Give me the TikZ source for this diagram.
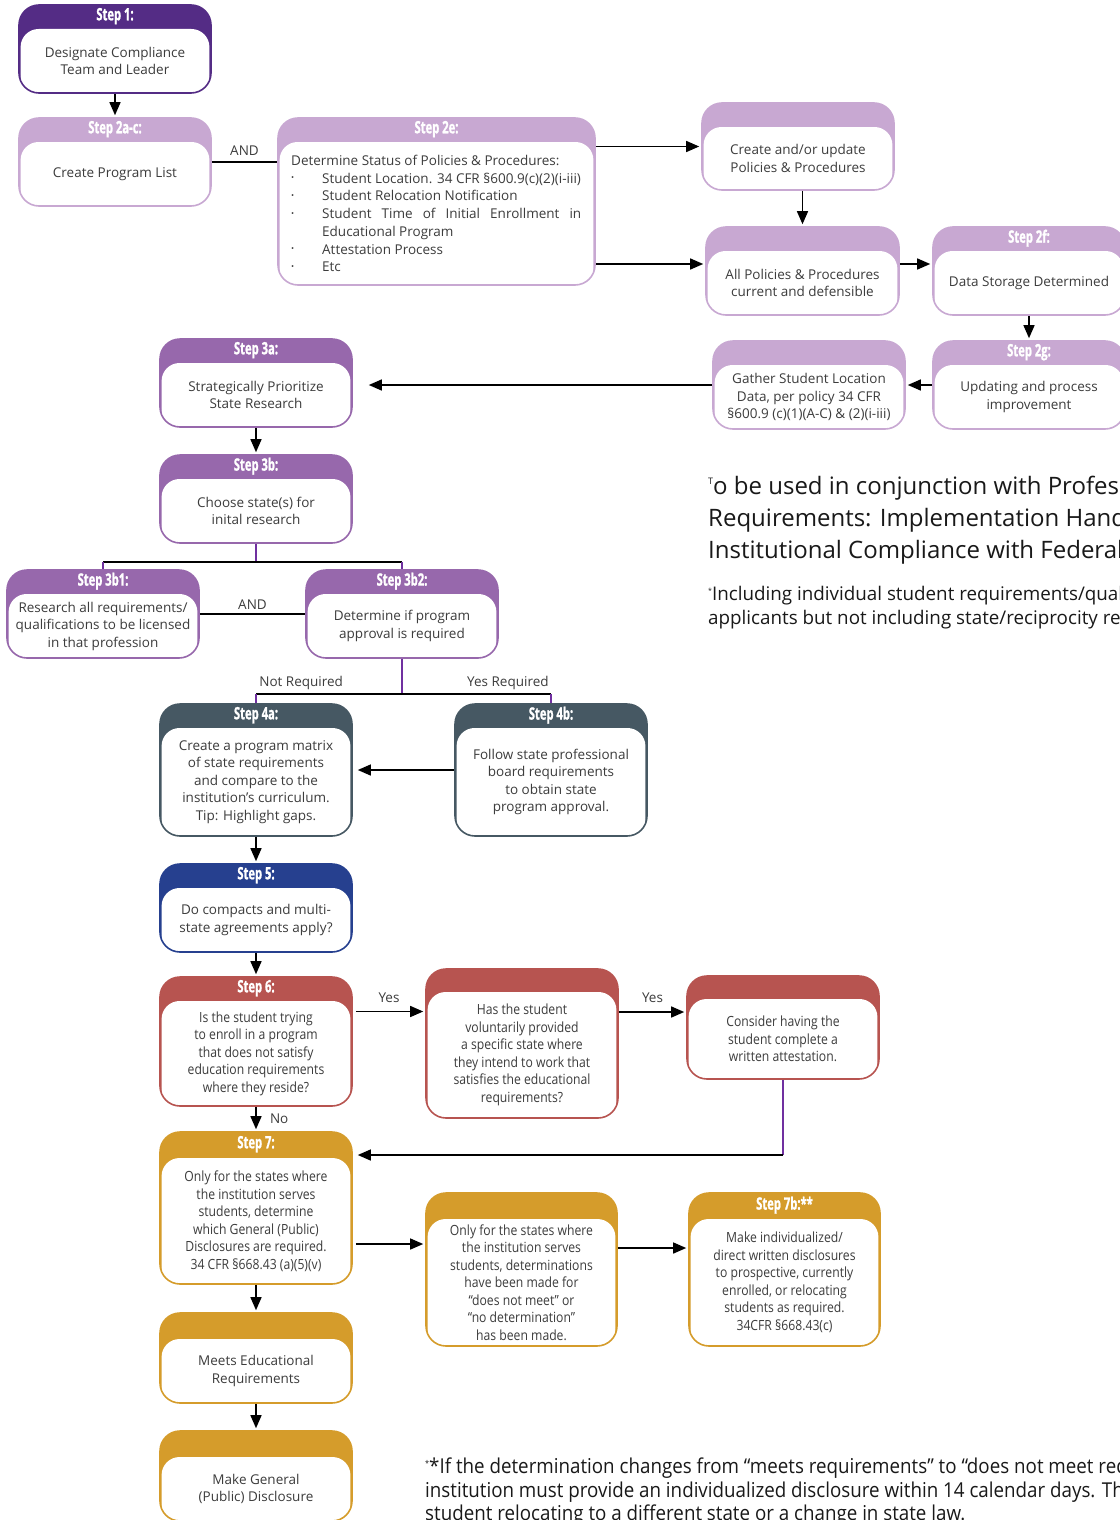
\documentclass[tikz,border=0pt]{standalone}
\usepackage{fontspec}
\setmainfont{Open Sans}
\newfontfamily\condfam[FakeStretch=0.87]{Open Sans}
\newfontfamily\notefam[FakeStretch=0.915]{Open Sans}
\newfontfamily\headfam[FakeStretch=0.66,FakeBold=1.2]{Open Sans}
\usepackage{xcolor}
\usetikzlibrary{arrows.meta,calc,positioning}

\definecolor{stepone}{RGB}{84,44,133}
\definecolor{steptwo}{RGB}{200,168,210}
\definecolor{stepthree}{RGB}{151,104,172}
\definecolor{stepfour}{RGB}{70,88,99}
\definecolor{stepfive}{RGB}{38,64,143}
\definecolor{stepsix}{RGB}{183,84,80}
\definecolor{stepseven}{RGB}{213,156,43}
\definecolor{joint}{RGB}{112,48,160}
\definecolor{ink}{RGB}{60,60,60}

\newcommand\bodyfont{\fontsize{13.5}{17.5}\selectfont}
\newcommand\condbody{\condfam\fontsize{14}{17.5}\selectfont}
\newcommand\dotitem{\makebox[31pt][l]{\raisebox{2.5pt}{\scalebox{0.6}{\textbullet}}}}

\tikzset{
	card/.style 2 args={draw=#1, fill=white, line width=1.6pt, rounded corners=20pt, inner sep=0pt,
		path picture={
			\fill[#1] (path picture bounding box.south west) rectangle (path picture bounding box.north east);
			\fill[white, rounded corners=18pt] ([shift={(1.6pt,-#2pt)}]path picture bounding box.north west)
				rectangle ([shift={(-1.6pt,-25pt)}]path picture bounding box.south east);
		}},
	headtext/.style={text=white, inner sep=0pt, font=\headfam\bfseries\fontsize{17}{18}\selectfont},
	bodytext/.style={text=ink, inner sep=0pt, align=center, font=\bodyfont},
	note/.style={text=black!90, inner sep=0pt, align=left, anchor=north west},
	link/.style={line width=1.4pt, black},
	plink/.style={line width=1.2pt, joint},
	arr/.style={link, -{Triangle[length=13pt,width=11pt]}, shorten >=2pt},
	tag/.style={text=ink, font=\bodyfont},
}

% name, colour, x1, y1, x2, y2, header height, header, body
\newcommand\card[9]{%
	\node[card={#2}{#7}, minimum width={#5-#3}, minimum height={#6-#4}] (#1) at ({(#3+#5)/2},{(#4+#6)/2}) {};
	\node[headtext] (#1-h) at ([yshift={-#7/2}]#1.north) {#8};
	\node[bodytext] (#1-b) at ($(#1.south)!0.5!([yshift=-#7pt]#1.north)$) {#9};
}

\begin{document}
\begin{tikzpicture}[x=1pt,y=-1pt]
	\useasboundingbox[fill=white] (0,0) rectangle (1119,1520);

	% step 1 and 2
	\card{s1}{stepone}{19}{5}{211}{93}{24}{Step 1:}{Designate Compliance\\Team and Leader}
	\card{s2ac}{steptwo}{19}{118}{211}{206}{24}{Step 2a-c:}{Create Program List}
	\card{s2e}{steptwo}{278}{118}{595}{285}{24}{Step 2e:}{}
	\node[bodytext, align=left, anchor=north west, font=\fontsize{13.5}{17.7}\selectfont] (s2e-l) at (291,155) {Determine Status of Policies \& Procedures:\\
		\dotitem Student Location. 34 CFR §600.9(c)(2)(i-iii)\\
		\dotitem Student Relocation Notification\\
		\dotitem\makebox[259pt][s]{Student Time of Initial Enrollment in}\\
		\hspace*{31pt}Educational Program\\
		\dotitem Attestation Process\\
		\dotitem Etc};
	\card{cre}{steptwo}{702}{103}{894}{190}{24}{}{Create and/or update\\Policies \& Procedures}
	\card{pol}{steptwo}{706}{227}{899}{315}{24}{}{All Policies \& Procedures\\current and defensible}
	\card{s2f}{steptwo}{933}{227}{1125}{315}{24}{Step 2f:}{Data Storage Determined}
	\card{s2g}{steptwo}{933}{341}{1125}{429}{24}{Step 2g:}{Updating and process\\improvement}
	\card{gat}{steptwo}{713}{341}{905}{429}{24}{}{Gather Student Location\\Data, per policy 34 CFR\\§600.9 (c)(1)(A-C) \& (2)(i-iii)}

	% step 3
	\card{s3a}{stepthree}{160}{339}{352}{427}{24}{Step 3a:}{Strategically Prioritize\\State Research}
	\card{s3b}{stepthree}{160}{455}{352}{543}{24}{Step 3b:}{Choose state(s) for\\inital research}
	\card{s3b1}{stepthree}{7}{570}{199}{658}{24}{Step 3b1:}{Research all requirements/\\qualifications to be licensed\\in that profession}
	\card{s3b2}{stepthree}{306}{570}{498}{658}{24}{Step 3b2:}{Determine if program\\approval is required}

	% step 4 and 5
	\card{s4a}{stepfour}{160}{704}{352}{836}{24}{Step 4a:}{Create a program matrix\\of state requirements\\and compare to the\\institution’s curriculum.\\Tip: Highlight gaps.}
	\card{s4b}{stepfour}{455}{704}{647}{836}{24}{Step 4b:}{Follow state professional\\board requirements\\to obtain state\\program approval.}
	\card{s5}{stepfive}{160}{864}{352}{952}{24}{Step 5:}{Do compacts and multi-\\state agreements apply?}

	% step 6 and 7
	\tikzset{bodytext/.append style={font=\condbody}}
	\card{s6}{stepsix}{160}{977}{352}{1106}{24}{Step 6:}{Is the student trying\\to enroll in a program\\that does not satisfy\\education requirements\\where they reside?}
	\card{has}{stepsix}{426}{969}{618}{1118}{23}{}{Has the student\\voluntarily provided\\a specific state where\\they intend to work that\\satisfies the educational\\requirements?}
	\card{att}{stepsix}{687}{976}{879}{1079}{23}{}{Consider having the\\student complete a\\written attestation.}
	\card{s7}{stepseven}{160}{1132}{352}{1284}{26}{Step 7:}{Only for the states where\\the institution serves\\students, determine\\which General (Public)\\Disclosures are required.\\34 CFR §668.43 (a)(5)(v)}
	\card{det}{stepseven}{426}{1193}{617}{1346}{26}{}{Only for the states where\\the institution serves\\students, determinations\\have been made for\\“does not meet” or\\“no determination”\\has been made.}
	\card{s7b}{stepseven}{689}{1193}{880}{1346}{26}{Step 7b:**}{Make individualized/\\direct written disclosures\\to prospective, currently\\enrolled, or relocating\\students as required.\\34CFR §668.43(c)}
	\tikzset{bodytext/.append style={font=\bodyfont}}
	\card{meet}{stepseven}{160}{1313}{352}{1403}{26}{}{Meets Educational\\Requirements}
	\card{gen}{stepseven}{160}{1431}{352}{1521}{26}{}{Make General\\(Public) Disclosure}

	% notes
	\node[note, font=\fontsize{24}{32}\selectfont] (intro) at (708,476) {{\fontsize{9}{9}\selectfont\raisebox{10pt}{T}}o be used in conjunction with Professional\\Requirements: Implementation Handbook\\Institutional Compliance with Federal};
	\node[note, font=\fontsize{18.8}{24}\selectfont] (incl) at (708,586) {\raisebox{7pt}{\fontsize{7}{7}\selectfont*}Including individual student requirements/qualifications\\applicants but not including state/reciprocity requirements};
	\node[note, font=\notefam\fontsize{20.5}{23.5}\selectfont] (change) at (425,1458) {\raisebox{7pt}{\fontsize{8}{8}\selectfont*}*If the determination changes from “meets requirements” to “does not meet requirements”\\institution must provide an individualized disclosure within 14 calendar days. This\\student relocating to a different state or a change in state law.};

	% connectors
	\coordinate (j3) at (256,562);
	\coordinate (j4) at (402,694);
	\coordinate (k7) at (783,1155);
	\draw[arr] (s1) -- (s2ac);
	\draw[link] (s2ac.east) -- (s2ac.east -| s2e.west) node[tag, midway, above=2pt] {AND};
	\draw[arr] (s2e.east |- cre) -- (cre);
	\draw[arr] ([yshift=7pt]s2e.east |- pol.west) -- ([yshift=7pt]pol.west);
	\draw[arr] (cre.south -| pol) -- (pol);
	\draw[arr] ([yshift=7pt]pol.east) -- ([yshift=7pt]s2f.west);
	\draw[arr] (s2f) -- (s2g);
	\draw[arr] (s2g) -- (gat);
	\draw[arr, shorten >=16pt] (gat.west) -- (gat.west -| s3a.east);
	\draw[arr] (s3a) -- (s3b);
	\draw[plink] (s3b) -- (j3);
	\draw[link] (s3b1.north |- j3) -- (s3b2.north |- j3);
	\draw[plink] (s3b1.north |- j3) -- (s3b1);
	\draw[plink] (s3b2.north |- j3) -- (s3b2);
	\draw[link] (s3b1) -- (s3b2) node[tag, midway, above] {AND};
	\draw[plink] (s3b2) -- (j4);
	\draw[link] (s4a.north |- j4) -- node[tag, pos=0.153, above] {Not Required} node[tag, pos=0.854, above] {Yes Required} (s4b.north |- j4);
	\draw[plink] (s4a.north |- j4) -- (s4a);
	\draw[plink] (s4b.north |- j4) -- (s4b);
	\draw[arr, shorten >=5pt] (s4b) -- (s4a);
	\draw[arr] (s4a) -- (s5);
	\draw[arr] (s5) -- (s6);
	\draw[arr, shorten <=3pt] ([yshift=30pt]s6.east) -- ([yshift=30pt]s6.east -| has.west) node[tag, midway, above=5pt] {Yes};
	\draw[arr] ([yshift=31.5pt]has.east) -- ([yshift=31.5pt]has.east -| att.west) node[tag, midway, above=5pt] {Yes};
	\draw[arr] (s6) -- (s7) node[tag, midway, right=10pt] {No};
	\draw[plink] (att) -- (k7);
	\draw[arr, shorten >=5pt] (k7) -- (k7 -| s7.east);
	\draw[arr, shorten <=3pt] ([yshift=-36pt]s7.east) -- ([yshift=-36pt]s7.east -| det.west);
	\draw[arr] ([yshift=21.5pt]det.east) -- ([yshift=21.5pt]det.east -| s7b.west);
	\draw[arr] (s7) -- (meet);
	\draw[arr] (meet) -- (gen);
\end{tikzpicture}
\end{document}
